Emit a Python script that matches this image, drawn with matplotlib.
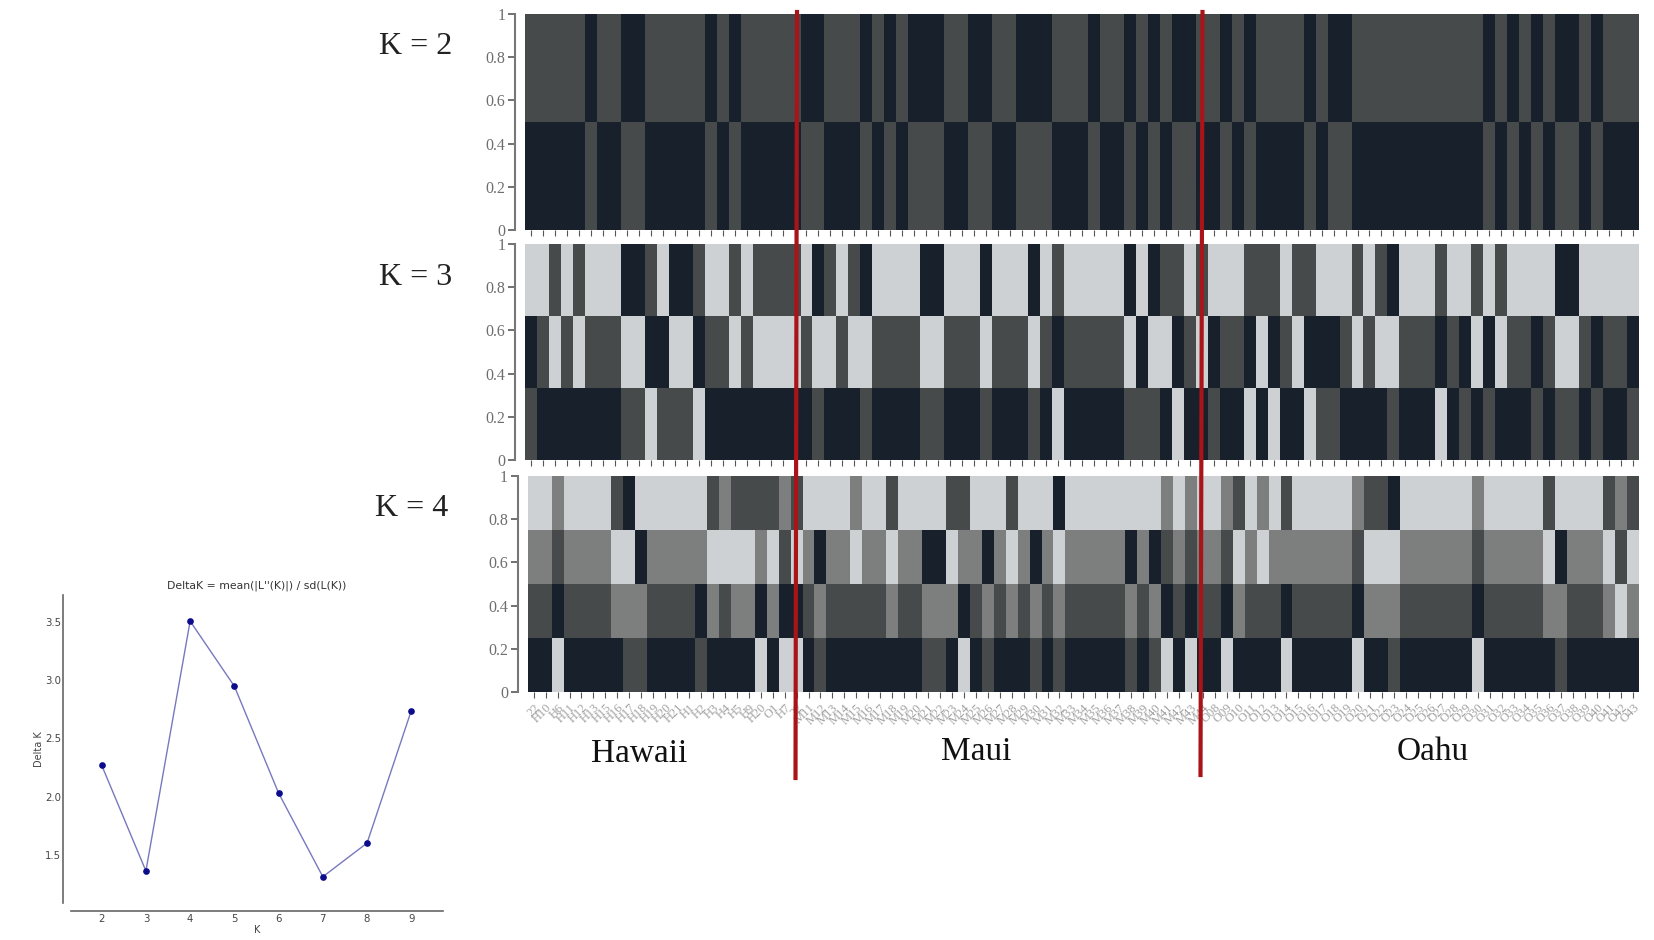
import matplotlib
matplotlib.use("Agg")
import matplotlib.pyplot as plt
from matplotlib.lines import Line2D

W, H = 1654, 940

# delta K plot
k_values = [2, 3, 4, 5, 6, 7, 8, 9]
delta_k = [2.27, 1.36, 3.51, 2.95, 2.03, 1.31, 1.60, 2.74]

# bar colours per individual, top row first (D dark, G grey, M mid, L light)
k2_rows = [
    "GGGGGDGGDD GGGGGDGDGG GGGDDGGGDG DGDDDGGDDG GDDDGGGDGG DGDGDDGGDG DGGGGDGDDG GGGGGGGGGG DGDGDGDDGD GGG",
    "DDDDDGDDGG DDDDDGDGDD DDDGGDDDGD GDGGGDDGGD DGGGDDDGDD GDGDGGDDGD GDDDDGDGGD DDDDDDDDDD GDGDGDGGDG DDD",
]
k3_rows = [
    "LLGLGLLLDD GLDDGLLGLG GGGLDGLGDL LLLDDLLLDL LLDLGLLLLL DLDGGLGLLL GGGLGGLLLG LGDLLLGLLG LGLLLLDDLL LLL",
    "DGLGLGGGLL DDLLDGGLGL LLLGLLGLLG GGGLLGGGLG GGLGDGGGGG LDLLDGLDGG DLDGLDDDGL GLLGGGDGDL DLGGDGLLGD GGD",
    "GDDDDDDDGG LGGGLDDDDD DDDDGDDDGD DDDGGDDDGD DDGDLDDDDD GGGDLDDGDD LDLDDLGGDD DDGDDDLDGD GDDDGDGGDG DDG",
]
k4_rows = [
    "LLMLLLLGDL LLLLLGMGGG GMGLLLLMLL GLLLLGGLLL GLLLDLLLLL LLLMLMLLMG LMLGLLLLLM GGDLLLLLLM LLLLLGLLLL GMG",
    "MMGMMMMLLD MMMMMLLLLM LGLMDMMLMM LMMDDLMMDM LMDMLMMMMM DMDGMGMMGL MLMMMMMMMG LLLMMMMMMG MMMMMLDMMM LGL",
    "GGDGGGGMMM GGGGDMGMMD MDDGMGGGGG MGGMMMDGMG MGMGMGGGGG MGMDGDGGDM GGGDGGGGGD MMMGGGGGGD GGGGGMMGGG MLM",
    "DDLDDDDDGG DDDDGDDDDL DLLDGDDDDD DDDGGDLDGD DDGDGDDDDD GDGLDLDDLD DDDLDDDDDL DDGDDDDDDL DDDDDDGDDD DDD",
]

yticks = [0, 0.2, 0.4, 0.6, 0.8, 1]
ytick_labels = ["0", "0.2", "0.4", "0.6", "0.8", "1"]

# sample names under the K = 4 panel, too blurred to read exactly
hawaii_ids = ["22", "H10", "H6", "H11", "H12", "H13", "H15", "H16", "H17", "H18", "H19", "H20",
              "H21", "H1", "H2", "H3", "H4", "H5", "H9", "H20", "O1", "H7", "22"]
maui_ids = ["M11", "M12", "M13", "M14", "M15", "M16", "M17", "M18", "M19", "M20", "M21", "M22",
            "M23", "M24", "M25", "M26", "M27", "M28", "M29", "M30", "M31", "M32", "M33", "M34",
            "M35", "M36", "M37", "M38", "M39", "M40", "M41", "M42", "M43", "M44"]
oahu_ids = ["O08", "O09", "O10", "O11", "O12", "O13", "O14", "O15", "O16", "O17", "O18", "O19",
            "O20", "O21", "O22", "O23", "O24", "O25", "O26", "O27", "O28", "O29", "O30", "O31",
            "O32", "O33", "O34", "O35", "O36", "O37", "O38", "O39", "O40", "O41", "O42", "O43"]
sample_labels = hawaii_ids + maui_ids + oahu_ids

colours = {"D": "#18202b", "G": "#464a4a", "M": "#7d7f7e", "L": "#cdd1d3"}
grey_txt = "#6e6e6e"
serif = "Liberation Serif"


def box(x0, y0, x1, y1):
    # pixels from the top left to figure fractions
    return [x0 / W, 1 - y1 / H, (x1 - x0) / W, (y1 - y0) / H]


def panel(rows, rect, spine_gap, labels=None):
    ax = fig.add_axes(box(*rect))
    rows = [r.replace(" ", "") for r in rows]
    share = 1 / len(rows)
    for n, row in enumerate(rows):
        ax.bar(range(len(row)), share, bottom=1 - share * (n + 1), width=1,
               color=[colours[c] for c in row], linewidth=0, antialiased=False)
    ax.set_xlim(-0.5, len(rows[0]) - 0.5)
    ax.set_ylim(0, 1)
    for s in ["top", "right", "bottom"]:
        ax.spines[s].set_visible(False)
    ax.spines["left"].set_position(("outward", spine_gap * 0.72))
    ax.spines["left"].set_color("#777777")
    ax.spines["left"].set_linewidth(1.5)
    ax.set_yticks(yticks)
    ax.set_yticklabels(ytick_labels, family=serif, fontsize=11.5, color=grey_txt)
    ax.tick_params(axis="y", length=5, width=1.3, color="#666666", pad=2)
    ax.set_xticks(range(len(rows[0])))
    if labels:
        ax.set_xticklabels(labels, family=serif, fontsize=9, color="#a0a0a0", rotation=45,
                           ha="right", rotation_mode="anchor")
    else:
        ax.set_xticklabels([])
    ax.tick_params(axis="x", length=4, width=0.8, color="#555555", pad=3)
    return ax


fig = plt.figure(figsize=(W / 100, H / 100), dpi=100, facecolor="white")

panel(k2_rows, (525, 14, 1639, 230), 10)
panel(k3_rows, (525, 244, 1639, 460), 10)
panel(k4_rows, (527.7, 476, 1639, 692), 10, sample_labels)

# delta K panel
ax = fig.add_axes(box(70.7, 595, 442.7, 903))
ax.plot(k_values, delta_k, color="#7878c0", linewidth=1.0, marker="o", markersize=3.8,
        markerfacecolor="#0b0b8c", markeredgecolor="#0b0b8c", clip_on=False)
ax.set_xlim(1.3, 9.71)
ax.set_ylim(1.084, 3.735)
for s in ["top", "right"]:
    ax.spines[s].set_visible(False)
ax.spines["left"].set_position(("outward", 5.8))
ax.spines["bottom"].set_position(("outward", 5.8))
for s in ["left", "bottom"]:
    ax.spines[s].set_color("#666666")
    ax.spines[s].set_linewidth(1.2)
ax.set_xticks(k_values)
ax.set_yticks([1.5, 2.0, 2.5, 3.0, 3.5])
ax.tick_params(length=0, labelsize=7.3, labelcolor="#444444")
ax.tick_params(axis="y", pad=1)
ax.tick_params(axis="x", pad=2)
ax.set_xlabel("K", fontsize=7, color="#444444", labelpad=0.5)
ax.set_ylabel("Delta K", fontsize=7, color="#444444", labelpad=1)
ax.set_title("DeltaK = mean(|L''(K)|) / sd(L(K))", fontsize=7.8, color="#333333", pad=5)

# K labels and island names
for txt, x, y in [("K = 2", 416, 47), ("K = 3", 416, 278), ("K = 4", 412, 508)]:
    fig.text(x / W, 1 - y / H, txt, family=serif, fontsize=23, color="#222222", ha="center", va="center")
for txt, x, y in [("Hawaii", 639, 754), ("Maui", 976, 752), ("Oahu", 1433, 752)]:
    fig.text(x / W, 1 - y / H, txt, family=serif, fontsize=24, color="#111111", ha="center", va="center")

# red dividers on top of everything
for x0, y0, x1, y1 in [(797, 12, 795.5, 778), (1202.5, 12, 1200.5, 775)]:
    fig.add_artist(Line2D([x0 / W, x1 / W], [1 - y0 / H, 1 - y1 / H], color="#a81418",
                          linewidth=3, transform=fig.transFigure, zorder=10))

fig.savefig("out.png", dpi=100)
